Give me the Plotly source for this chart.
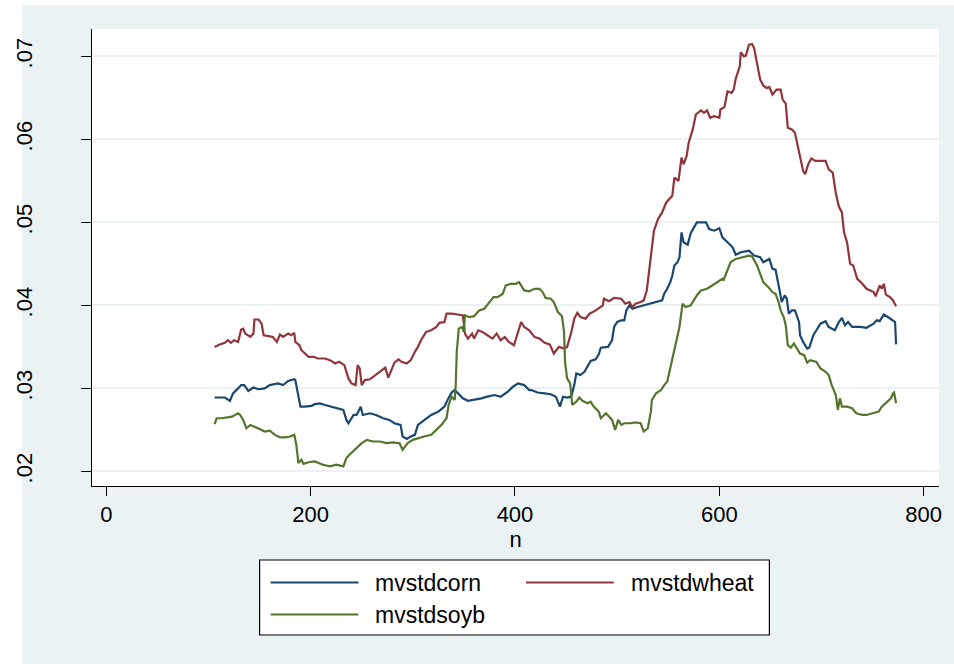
import plotly.graph_objects as go

# ---- data ----
corn_n = [106,116,121,124,129,132,135,139,144,149,155,160,168,173,178,184,185,188,190,194,201,204,209,214,220,227,232,235,237,242,245,249,251,258,264,271,277,282,288,290,294,298,302,305,311,318,325,331,334,338,341,344,349,354,360,367,373,380,386,393,398,403,409,414,416,422,429,435,440,444,447,451,455,458,460,464,468,471,474,479,482,484,491,495,497,500,504,507,509,512,515,520,526,533,539,544,546,549,552,554,556,559,561,563,565,569,572,575,578,583,587,590,595,600,603,608,613,616,621,629,634,640,643,649,652,655,657,659,661,664,666,668,671,674,678,679,682,686,688,692,695,699,704,707,713,717,720,723,726,730,738,744,751,754,757,761,765,770,772,773]
corn_v = [.0289,.0289,.0285,.0294,.0300,.0304,.0304,.0297,.0301,.0299,.0300,.0304,.0306,.0304,.0309,.0311,.0310,.0289,.0278,.0278,.0279,.0281,.0282,.0280,.0278,.0276,.0274,.0262,.0258,.0268,.0268,.0278,.0268,.0270,.0268,.0264,.0262,.0258,.0256,.0242,.0239,.0242,.0244,.0256,.0262,.0268,.0272,.0278,.0286,.0295,.0298,.0294,.0288,.0285,.0286,.0288,.0290,.0292,.0290,.0296,.0302,.0306,.0304,.0298,.0298,.0295,.0294,.0293,.0290,.0278,.0290,.0289,.0290,.0304,.0318,.0316,.0320,.0326,.0333,.0335,.0341,.0349,.0350,.0358,.0374,.0380,.0382,.0382,.0394,.0400,.0396,.0398,.0400,.0402,.0404,.0406,.0414,.0420,.0428,.0436,.0448,.0452,.0458,.0488,.0476,.0473,.0487,.0494,.0500,.0500,.0500,.0492,.0490,.0493,.0482,.0476,.0470,.0461,.0464,.0466,.0460,.0458,.0452,.0456,.0444,.0443,.0432,.0418,.0404,.0412,.0408,.0390,.0394,.0394,.0380,.0364,.0356,.0348,.0349,.0364,.0370,.0378,.0381,.0374,.0370,.0380,.0385,.0376,.0380,.0374,.0374,.0373,.0378,.0382,.0381,.0389,.0386,.0382,.0380,.0353]

wheat_n = [106,111,116,119,122,125,129,132,134,136,141,144,145,149,152,154,159,163,167,170,173,178,181,184,185,189,191,194,198,203,207,214,219,224,228,233,237,240,244,246,248,250,253,258,263,268,271,273,276,279,282,286,289,294,298,302,305,308,313,318,323,326,331,333,338,344,349,351,354,358,360,364,368,373,378,382,386,390,394,399,403,406,409,414,419,424,429,434,438,443,448,451,455,458,461,464,469,473,479,486,487,492,497,504,508,512,515,518,523,526,529,531,533,534,536,540,544,548,554,556,560,563,565,568,570,574,577,582,585,588,591,595,600,601,605,608,612,614,616,620,621,624,626,629,632,634,637,640,643,646,649,652,656,660,662,665,667,671,674,677,679,682,684,687,690,694,699,704,707,711,714,717,720,722,725,728,731,735,740,744,751,753,757,759,761,763,767,770,773]
wheat_v = [.0350,.0353,.0355,.0358,.0355,.0358,.0356,.0371,.0372,.0366,.0362,.0366,.0383,.0383,.0378,.0364,.0363,.0362,.0356,.0365,.0362,.0366,.0364,.0367,.0356,.0352,.0346,.0343,.0338,.0338,.0336,.0336,.0334,.0330,.0332,.0328,.0312,.0306,.0304,.0328,.0324,.0304,.0310,.0311,.0316,.0320,.0324,.0325,.0313,.0322,.0331,.0335,.0332,.0330,.0334,.0344,.0350,.0358,.0368,.0370,.0374,.0379,.0380,.0390,.0390,.0389,.0388,.0366,.0360,.0366,.0360,.0370,.0368,.0364,.0360,.0366,.0358,.0362,.0356,.0352,.0367,.0380,.0374,.0370,.0362,.0360,.0355,.0353,.0342,.0350,.0348,.0350,.0367,.0384,.0391,.0386,.0384,.0390,.0394,.0400,.0408,.0405,.0409,.0408,.0402,.0404,.0398,.0402,.0404,.0406,.0418,.0440,.0460,.0476,.0490,.0504,.0512,.0524,.0532,.0554,.0550,.0578,.0570,.0580,.0596,.0612,.0630,.0635,.0632,.0635,.0626,.0628,.0626,.0636,.0639,.0658,.0656,.0660,.0673,.0688,.0705,.0700,.0701,.0714,.0715,.0710,.0692,.0672,.0665,.0662,.0663,.0654,.0660,.0660,.0648,.0643,.0614,.0612,.0608,.0592,.0582,.0562,.0558,.0570,.0577,.0574,.0574,.0574,.0564,.0560,.0535,.0519,.0512,.0488,.0476,.0450,.0448,.0432,.0426,.0420,.0416,.0411,.0424,.0420,.0426,.0413,.0410,.0406,.0399]

soyb_n = [106,108,113,118,123,129,131,134,137,141,145,150,155,160,165,170,175,180,184,186,188,191,193,198,204,209,212,219,225,232,235,238,243,250,255,261,268,274,281,287,290,295,300,305,311,318,323,328,333,335,338,341,342,343,345,348,350,351,355,360,365,370,375,379,383,388,391,396,401,404,409,414,419,424,427,430,435,438,442,446,448,449,451,454,456,460,463,466,471,474,477,482,484,489,492,495,498,501,504,507,513,518,523,526,530,533,534,538,543,546,549,552,555,558,561,564,567,572,575,578,582,588,593,598,603,604,608,611,616,622,629,632,637,640,643,648,652,655,658,660,663,665,667,670,673,676,679,683,686,689,695,699,704,707,710,714,716,718,720,725,730,734,740,744,749,756,759,764,768,770,771,773]
soyb_v = [.0257,.0264,.0264,.0265,.0266,.0270,.0268,.0262,.0252,.0256,.0254,.0251,.0248,.0249,.0244,.0241,.0241,.0242,.0244,.0232,.0210,.0214,.0209,.0211,.0212,.0209,.0208,.0206,.0208,.0206,.0216,.0220,.0226,.0234,.0238,.0236,.0236,.0234,.0235,.0234,.0226,.0234,.0238,.0240,.0242,.0244,.0250,.0256,.0264,.0280,.0290,.0286,.0304,.0344,.0372,.0374,.0368,.0388,.0386,.0387,.0394,.0396,.0404,.0410,.0410,.0414,.0424,.0426,.0426,.0428,.0418,.0417,.0420,.0420,.0416,.0409,.0408,.0404,.0392,.0387,.0368,.0332,.0312,.0306,.0280,.0284,.0289,.0285,.0282,.0284,.0278,.0272,.0264,.0270,.0266,.0262,.0250,.0262,.0256,.0258,.0258,.0259,.0258,.0248,.0252,.0272,.0286,.0294,.0298,.0304,.0308,.0324,.0342,.0356,.0374,.0402,.0398,.0400,.0406,.0412,.0418,.0420,.0424,.0428,.0432,.0430,.0442,.0452,.0456,.0458,.0460,.0459,.0448,.0438,.0428,.0422,.0416,.0414,.0404,.0394,.0386,.0376,.0352,.0349,.0354,.0348,.0342,.0340,.0331,.0334,.0332,.0324,.0320,.0316,.0304,.0292,.0274,.0288,.0278,.0278,.0276,.0270,.0268,.0268,.0270,.0272,.0278,.0284,.0288,.0294,.0295,.0282]

series_names = ["mvstdcorn", "mvstdwheat", "mvstdsoyb"]
series_colors = ["#1a476f", "#90353b", "#55752f"]

x_ticks = [0, 200, 400, 600, 800]
y_ticks = [0.02, 0.03, 0.04, 0.05, 0.06, 0.07]
y_ticktext = [".02", ".03", ".04", ".05", ".06", ".07"]

BG = "#eaf2f3"
FONT = "Liberation Sans, Arial, sans-serif"

fig = go.Figure()
for n, v, name, col in zip([corn_n, wheat_n, soyb_n], [corn_v, wheat_v, soyb_v],
                           series_names, series_colors):
    fig.add_trace(go.Scatter(x=n, y=v, mode="lines", name=name,
                             line=dict(color=col, width=2.2), showlegend=False))

W, H = 954, 664
L, R, T, B = 90, 15, 29, 178
pw, ph = W - L - R, H - T - B

def px(x):
    return (x - L) / pw

def py(y):
    return (H - B - y) / ph

shapes = [
    # white page strips outside the Stata graph region
    dict(type="rect", xref="paper", yref="paper", x0=px(-10), x1=px(20), y0=py(700), y1=py(-10),
         fillcolor="white", line=dict(width=0), layer="below"),
    dict(type="rect", xref="paper", yref="paper", x0=px(-10), x1=px(970), y0=py(5), y1=py(-10),
         fillcolor="white", line=dict(width=0), layer="below"),
    # legend box
    dict(type="rect", xref="paper", yref="paper", x0=px(258), x1=px(769), y0=py(635), y1=py(560),
         fillcolor="white", line=dict(color="#000000", width=1.2), layer="above"),
]
annotations = []
legend_pos = [(269, 357, 372, 582.5), (525, 613, 628, 582.5), (269, 357, 372, 614.5)]
for (lx0, lx1, tx, ly), name, col in zip(legend_pos, series_names, series_colors):
    shapes.append(dict(type="line", xref="paper", yref="paper", x0=px(lx0), x1=px(lx1),
                       y0=py(ly), y1=py(ly), line=dict(color=col, width=2.2), layer="above"))
    annotations.append(dict(xref="paper", yref="paper", x=px(tx), y=py(ly), text=name,
                            showarrow=False, xanchor="left", yanchor="middle",
                            font=dict(family=FONT, size=23, color="#000000")))

fig.update_layout(
    width=W, height=H,
    margin=dict(l=L, r=R, t=T, b=B, pad=0),
    paper_bgcolor=BG, plot_bgcolor="white",
    font=dict(family=FONT, color="#000000"),
    shapes=shapes, annotations=annotations,
    showlegend=False,
)
fig.update_xaxes(range=[-14, 815], tickvals=x_ticks, ticks="outside", ticklen=9,
                 tickcolor="#000000", tickwidth=1, showline=True, linecolor="#000000",
                 linewidth=1, showgrid=False, zeroline=False,
                 tickfont=dict(size=22, family=FONT),
                 title=dict(text="n", font=dict(size=22, family=FONT), standoff=0))
fig.update_yaxes(range=[0.01824, 0.0733], tickvals=y_ticks, ticktext=y_ticktext,
                 ticks="outside", ticklen=10, tickcolor="#000000", tickwidth=1,
                 showline=True, linecolor="#000000", linewidth=1,
                 showgrid=True, gridcolor=BG, gridwidth=2, zeroline=False,
                 tickangle=-90, ticklabelstandoff=40,
                 tickfont=dict(size=22, family=FONT))

fig.write_html("out.html")
